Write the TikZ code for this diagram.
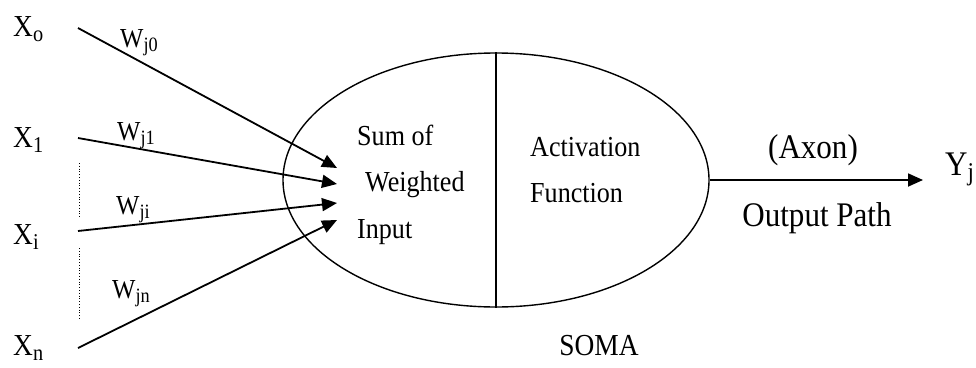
\documentclass[tikz,border=0pt]{standalone}
\usepackage{fontspec}
\setmainfont{Liberation Serif}
\usepackage{graphicx}
\usepackage{tikz}
\usetikzlibrary{arrows.meta,calc,positioning,shapes.geometric}

% narrow text and lowered subscripts
\newcommand{\sqz}[1]{\scalebox{0.9}[1]{#1}}
\newcommand{\lsub}[1]{\raisebox{-0.17em}{\scalebox{0.74}{#1}}}

\tikzset{
	inlabel/.style={font=\fontsize{30.5}{33}\selectfont,inner sep=0pt,anchor=base west},
	wlabel/.style={font=\fontsize{27.5}{30}\selectfont,inner sep=0pt,anchor=base west},
	somatext/.style={font=\fontsize{29}{31}\selectfont,inner sep=0pt,anchor=base west},
	outtext/.style={font=\fontsize{34.5}{37}\selectfont,inner sep=0pt,anchor=base},
	weightline/.style={line width=1.8pt,-{Triangle[length=15pt,width=13pt]}},
}

\begin{document}
\begin{tikzpicture}[x=1pt,y=-1pt]
		\useasboundingbox (0,0) rectangle (976,367);
		% cell body
		\node[draw,ellipse,line width=1.4pt,minimum width=426pt,minimum height=254pt,inner sep=0pt] (soma) at (496,180) {};
		\draw[line width=1.4pt] (soma.north) -- (soma.south);
		\node[somatext] (sum) at (357,145) {\sqz{Sum of}};
		\node[somatext] (weighted) at (365,191) {\sqz{Weighted}};
		\node[somatext] (input) at (357,238) {\sqz{Input}};
		\node[somatext] (act) at (530,156) {\sqz{Activation}};
		\node[somatext] (func) at (530,202) {\sqz{Function}};
		\node[outtext,font=\fontsize{30.5}{33}\selectfont] (somaname) at (599,355) {\sqz{SOMA}};
		% inputs
		\node[inlabel] (x0) at (13,36) {\sqz{X\lsub{o}}};
		\node[inlabel] (x1) at (13,147) {\sqz{X\lsub{1}}};
		\node[inlabel] (xi) at (13,244) {\sqz{X\lsub{i}}};
		\node[inlabel] (xn) at (13,355) {\sqz{X\lsub{n}}};
		\coordinate (s0) at (78,28);
		\coordinate (s1) at (78,138);
		\coordinate (si) at (78,231);
		\coordinate (sn) at (78,348);
		\coordinate (t0) at (337,168);
		\coordinate (t1) at (337,184);
		\coordinate (ti) at (337,203);
		\coordinate (tn) at (337,220);
		\draw[weightline] (s0) -- (t0);
		\draw[weightline] (s1) -- (t1);
		\draw[weightline] (si) -- (ti);
		\draw[weightline] (sn) -- (tn);
		\node[wlabel] (w0) at (120,47) {\sqz{W\lsub{j0}}};
		\node[wlabel] (w1) at (117,140) {\sqz{W\lsub{j1}}};
		\node[wlabel] (wi) at (116,214) {\sqz{W\lsub{ji}}};
		\node[wlabel] (wn) at (112,298) {\sqz{W\lsub{jn}}};
		% dots between inputs
		\coordinate (d1a) at (79,163);
		\coordinate (d1b) at (79,217);
		\coordinate (d2a) at (79,248);
		\coordinate (d2b) at (79,320);
		\draw[dotted,line width=0.8pt] (d1a) -- (d1b);
		\draw[dotted,line width=0.8pt] (d2a) -- (d2b);
		% output path
		\node[outtext,anchor=base west] (yj) at (945,175) {\sqz{Y\lsub{j}}};
		\coordinate (yend) at (923,180);
		\draw[weightline] (soma.east) -- (yend);
		\node[outtext] (axon) at (813,158) {\sqz{(Axon)}};
		\node[outtext] (opath) at (817,226) {\sqz{Output Path}};
	\end{tikzpicture}
\end{document}
